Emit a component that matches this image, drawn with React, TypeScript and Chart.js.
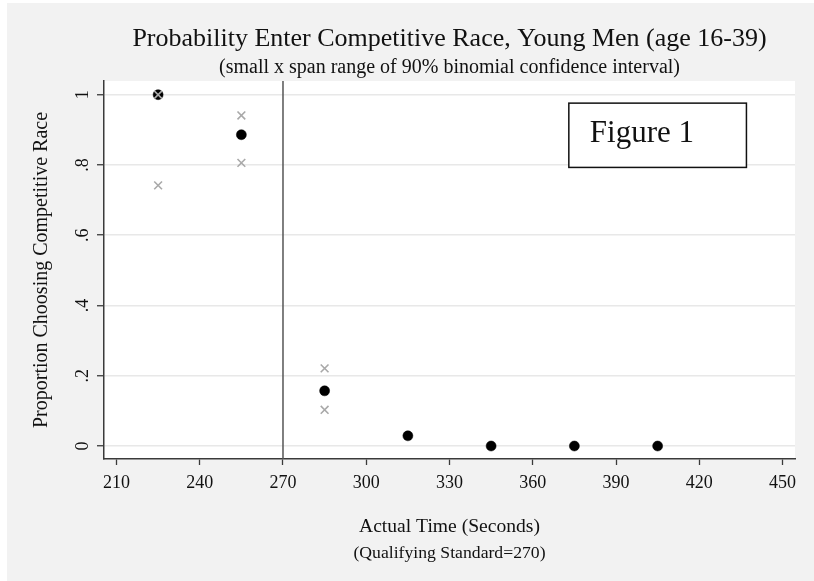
import React, { useEffect, useRef } from "react";
import { Chart, registerables } from "chart.js";

Chart.register(...registerables);

// ---- data ----
const RACE_TIMES = [225, 255, 285, 315, 345, 375, 405];
const PROPORTION = [1.0, 0.886, 0.157, 0.029, 0.0, 0.0, 0.0];
const CI_TIMES = [225, 255, 285];
const CI_UPPER = [1.0, 0.941, 0.221];
const CI_LOWER = [0.742, 0.806, 0.103];
const X_TICKS = [210, 240, 270, 300, 330, 360, 390, 420, 450];
const Y_TICKS = [0, 0.2, 0.4, 0.6, 0.8, 1];
const Y_TICK_LABELS = ["0", ".2", ".4", ".6", ".8", "1"];
const QUALIFYING_STANDARD = 270;

const TITLE = "Probability Enter Competitive Race, Young Men (age 16-39)";
const SUBTITLE = "(small x span range of 90% binomial confidence interval)";
const X_TITLE = "Actual Time (Seconds)";
const X_SUBTITLE = "(Qualifying Standard=270)";
const Y_TITLE = "Proportion Choosing Competitive Race";
const NOTE = "Figure 1";

const FONT = '"Liberation Serif", "Times New Roman", serif';
const BG = "#f2f2f2";
const AXIS = "#3a3a3a";

export default function App() {
  const ref = useRef<HTMLCanvasElement | null>(null);

  useEffect(() => {
    document.body.style.margin = "0";
    const canvas = ref.current;
    if (!canvas) return;

    const decor = {
      id: "decor",
      beforeDraw(chart: any) {
        const { ctx, chartArea: a, width, height } = chart;
        ctx.save();
        ctx.fillStyle = "#ffffff";
        ctx.fillRect(0, 0, width, height);
        ctx.fillStyle = BG;
        ctx.fillRect(7, 3, width - 7, height - 3);
        ctx.fillStyle = "#ffffff";
        ctx.fillRect(a.left, a.top, a.right - a.left, a.bottom - a.top);
        ctx.restore();
      },
      beforeDatasetsDraw(chart: any) {
        const { ctx, chartArea: a } = chart;
        const x = chart.scales.x.getPixelForValue(QUALIFYING_STANDARD);
        ctx.save();
        ctx.strokeStyle = "#555555";
        ctx.lineWidth = 1.5;
        ctx.beginPath();
        ctx.moveTo(x, a.top);
        ctx.lineTo(x, a.bottom);
        ctx.stroke();
        ctx.restore();
      },
      afterDraw(chart: any) {
        const { ctx, chartArea: a } = chart;
        const xs = chart.scales.x;
        const ys = chart.scales.y;
        const cx = (a.left + a.right) / 2;
        const cy = (a.top + a.bottom) / 2;
        ctx.save();
        ctx.fillStyle = "#111111";
        ctx.textAlign = "center";
        ctx.textBaseline = "middle";
        ctx.font = `26px ${FONT}`;
        ctx.fillText(TITLE, cx, 39);
        ctx.font = `20px ${FONT}`;
        ctx.fillText(SUBTITLE, cx, 68);
        ctx.font = `19.6px ${FONT}`;
        ctx.fillText(X_TITLE, cx, 527);
        ctx.font = `17.7px ${FONT}`;
        ctx.fillText(X_SUBTITLE, cx, 553);

        // y tick labels, rotated
        ctx.font = `18px ${FONT}`;
        Y_TICKS.forEach((v, i) => {
          const py = ys.getPixelForValue(v);
          ctx.save();
          ctx.translate(83, py);
          ctx.rotate(-Math.PI / 2);
          ctx.fillText(Y_TICK_LABELS[i], 0, 0);
          ctx.restore();
        });
        // y title
        ctx.save();
        ctx.translate(42, cy);
        ctx.rotate(-Math.PI / 2);
        ctx.font = `20px ${FONT}`;
        ctx.fillText(Y_TITLE, 0, 0);
        ctx.restore();

        // Figure 1 box
        const bx0 = xs.getPixelForValue(373);
        const bx1 = xs.getPixelForValue(437);
        const by0 = ys.getPixelForValue(0.976);
        const by1 = ys.getPixelForValue(0.793);
        ctx.fillStyle = "#ffffff";
        ctx.fillRect(bx0, by0, bx1 - bx0, by1 - by0);
        ctx.strokeStyle = "#111111";
        ctx.lineWidth = 1.5;
        ctx.strokeRect(bx0, by0, bx1 - bx0, by1 - by0);
        ctx.fillStyle = "#111111";
        ctx.textAlign = "left";
        ctx.textBaseline = "alphabetic";
        ctx.font = `31px ${FONT}`;
        ctx.fillText(NOTE, bx0 + 21, by0 + 39);
        ctx.restore();
      },
    };

    const chart = new Chart(canvas, {
      type: "scatter",
      data: {
        datasets: [
          {
            label: "Upper",
            data: CI_TIMES.map((t, i) => ({ x: t, y: CI_UPPER[i] })),
            pointStyle: "crossRot",
            pointRadius: 5.5,
            pointBorderColor: "#a9a9a9",
            pointBorderWidth: 1.6,
          },
          {
            label: "Lower",
            data: CI_TIMES.map((t, i) => ({ x: t, y: CI_LOWER[i] })),
            pointStyle: "crossRot",
            pointRadius: 5.5,
            pointBorderColor: "#a9a9a9",
            pointBorderWidth: 1.6,
          },
          {
            label: "Proportion",
            data: RACE_TIMES.map((t, i) => ({ x: t, y: PROPORTION[i] })),
            pointStyle: "circle",
            pointRadius: 5,
            pointBackgroundColor: "#000000",
            pointBorderColor: "#000000",
            pointBorderWidth: 0.5,
          },
        ],
      },
      options: {
        animation: false,
        responsive: false,
        devicePixelRatio: 1,
        layout: { padding: { left: 0, top: 81, right: 19, bottom: 0 } },
        plugins: {
          legend: { display: false },
          title: { display: false },
          tooltip: { enabled: false },
        },
        events: [],
        scales: {
          x: {
            type: "linear",
            min: 205.5,
            max: 454.5,
            afterFit(s: any) {
              s.height = 122;
            },
            afterBuildTicks(s: any) {
              s.ticks = X_TICKS.map((v) => ({ value: v }));
            },
            ticks: {
              color: "#111111",
              font: { family: FONT, size: 18 },
              padding: 7,
              maxRotation: 0,
              minRotation: 0,
              callback: (v: any) => String(v),
            },
            grid: {
              drawOnChartArea: false,
              drawTicks: true,
              tickLength: 6,
              tickColor: AXIS,
              tickWidth: 1.3,
            },
            border: { display: true, color: AXIS, width: 1.5 },
          },
          y: {
            type: "linear",
            min: -0.037,
            max: 1.039,
            afterFit(s: any) {
              s.width = 104;
            },
            afterBuildTicks(s: any) {
              s.ticks = Y_TICKS.map((v) => ({ value: v }));
            },
            ticks: { display: false },
            grid: {
              drawOnChartArea: true,
              color: "#e8e8e8",
              lineWidth: 1.5,
              drawTicks: true,
              tickLength: 7,
              tickColor: AXIS,
              tickWidth: 1.3,
            },
            border: { display: true, color: AXIS, width: 1.5 },
          },
        },
      },
      plugins: [decor],
    });

    return () => chart.destroy();
  }, []);

  return (
    <div style={{ position: "fixed", left: 0, top: 0, width: 814, height: 581 }}>
      <canvas ref={ref} width={814} height={581} style={{ width: 814, height: 581, display: "block" }} />
    </div>
  );
}
